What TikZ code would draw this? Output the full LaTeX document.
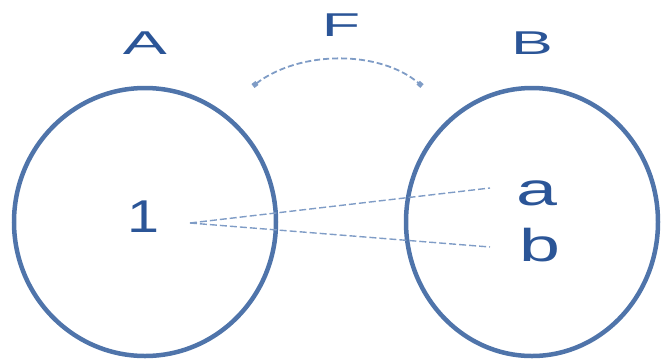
\documentclass[tikz,border=0pt]{standalone}
\usepackage{fontspec}
\setmainfont{Liberation Sans}
\usetikzlibrary{arrows.meta}
\definecolor{ring}{HTML}{4F74AA}
\definecolor{ink}{HTML}{2B5597}
\definecolor{thin}{HTML}{7F9CC6}
\tikzset{
  setring/.style={draw=ring, line width=4.5pt},
  bigtext/.style={text=ink, inner sep=0pt, font=\fontsize{33}{33}\selectfont},
  eltext/.style={text=ink, inner sep=0pt, font=\fontsize{46}{46}\selectfont},
  link/.style={draw=thin, line width=1.4pt, dash pattern=on 7pt off 3pt},
  maparrow/.style={draw=thin, line width=1.8pt, dash pattern=on 6pt off 3pt, {Square[length=5pt,width=5pt]}-{Square[length=5pt,width=5pt]}}
}
\begin{document}
\begin{tikzpicture}[x=1pt,y=-1pt]
\useasboundingbox (0,0) rectangle (662,360);
\draw[setring] (145,222) ellipse [x radius=131, y radius=134];
\draw[setring] (532,222) ellipse [x radius=126, y radius=134];
\node[bigtext] (A) at (145,43) {\scalebox{2}[1]{A}};
\node[bigtext] (B) at (532,43) {\scalebox{1.9}[1]{B}};
\node[bigtext] (F) at (341,25) {\scalebox{1.9}[1]{F}};
\node[eltext] (one) at (143,217) {\scalebox{1.25}[1]{1}};
\node[eltext] (a) at (537,193) {\scalebox{1.6}[1]{a}};
\node[eltext] (b) at (540,245) {\scalebox{1.6}[1]{b}};
\coordinate (s) at (190,223);
\coordinate (ea) at (490,188);
\coordinate (eb) at (490,247);
\coordinate (l) at (253,86);
\coordinate (r) at (422,86);
\draw[link] (s) -- (ea);
\draw[link] (s) -- (eb);
\draw[maparrow] (l) .. controls (300,50) and (380,50) .. (r);
\end{tikzpicture}
\end{document}
